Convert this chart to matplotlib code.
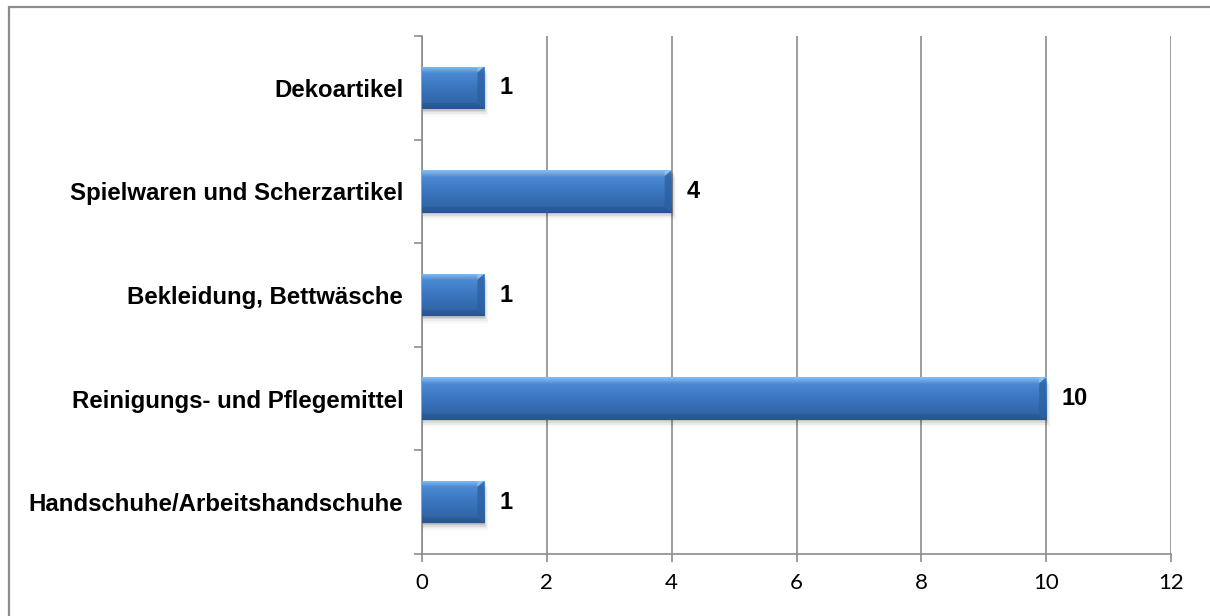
import numpy as np
import matplotlib.pyplot as plt
from matplotlib.patches import Rectangle, Polygon
from matplotlib.colors import LinearSegmentedColormap

# product groups, bottom to top
categories = ["Handschuhe/Arbeitshandschuhe",
              "Reinigungs- und Pflegemittel",
              "Bekleidung, Bettwäsche",
              "Spielwaren und Scherzartikel",
              "Dekoartikel"]
counts = [1, 10, 1, 4, 1]
xticks = [0, 2, 4, 6, 8, 10, 12]

GRID = "#8c8c8c"
fig = plt.figure(figsize=(12.1, 6.16), dpi=100)
ax = fig.add_axes([422 / 1210, 1 - 554 / 616, 749 / 1210, 518 / 616])

# outer frame of the chart area (runs off the right/bottom edge)
fig.patches.append(Rectangle((8.5 / 1210, -0.1), 1.2, 1 - 6.5 / 616 + 0.1,
                             transform=fig.transFigure, fill=False,
                             edgecolor=GRID, lw=1.6, zorder=0))

ypos = np.arange(len(categories))
bars = ax.barh(ypos, counts, height=0.41, color="none", edgecolor="none", zorder=3)

# vertical shading for the bevelled bar look
face = LinearSegmentedColormap.from_list("face", [
    (0.0, "#2a5893"), (0.14, "#3165a6"), (0.55, "#3c78c2"),
    (0.84, "#4b89d3"), (0.92, "#6aa7e8"), (1.0, "#86bff2")])
grad = np.linspace(0, 1, 256).reshape(-1, 1)

px_x = 749 / 12.0      # pixels per x unit
px_y = 518 / 5.0       # pixels per category band
bx = 7 / px_x
by = 6 / px_y

for b in bars:
    x0, y0, w, h = b.get_x(), b.get_y(), b.get_width(), b.get_height()
    x1, y1 = x0 + w, y0 + h
    # soft shadow below the bar
    for k, a in enumerate([0.10, 0.07, 0.045, 0.025, 0.012]):
        d = (k + 1) * 1.6 / px_y
        ax.add_patch(Rectangle((x0, y0 - d), w + (k + 1) * 1.0 / px_x, h,
                               facecolor="#000000", alpha=a, lw=0, zorder=2))
    im = ax.imshow(grad, extent=(x0, x1, y0, y1), origin="lower", cmap=face,
                   aspect="auto", zorder=3, interpolation="bicubic")
    im.set_clip_path(Rectangle((x0, y0), w, h, transform=ax.transData))
    # bevel edges at the bar end
    ax.add_patch(Polygon([(x1, y1), (x1 - bx, y1 - by), (x1 - bx, y1)],
                         closed=True, facecolor="#9fcdf6", alpha=0.6, lw=0, zorder=4))
    ax.add_patch(Polygon([(x0, y0), (x1, y0), (x1 - bx, y0 + by), (x0, y0 + by)],
                         closed=True, facecolor="#244f86", alpha=0.35, lw=0, zorder=4))
    ax.add_patch(Polygon([(x1, y0), (x1, y1), (x1 - bx, y1 - by), (x1 - bx, y0 + by)],
                         closed=True, facecolor="#2c5f9f", alpha=0.75, lw=0, zorder=4))
    ax.text(x1 + 15 / px_x, b.get_y() + h / 2, str(int(w)),
            va="center", ha="left", fontsize=17, fontweight="bold",
            family="Liberation Sans", color="black", zorder=5)

ax.set_xlim(0, 12)
ax.set_ylim(-0.5, len(categories) - 0.5)
ax.set_xticks(xticks)
ax.set_xticklabels([str(t) for t in xticks], fontsize=16, family="Lato")
ax.set_yticks(ypos)
ax.set_yticklabels(categories, fontsize=17.3, fontweight="bold", family="Liberation Sans")
ax.set_yticks(np.arange(-0.5, len(categories)), minor=True)
ax.tick_params(axis="y", which="major", length=0, pad=13.5)
ax.tick_params(axis="y", which="minor", length=6, width=1.2, color=GRID)
ax.tick_params(axis="x", length=6, width=1.2, color=GRID, pad=8)

ax.grid(axis="x", color=GRID, lw=1.2, zorder=1)
ax.set_axisbelow(True)
for s in ["top", "right"]:
    ax.spines[s].set_visible(False)
for s in ["left", "bottom"]:
    ax.spines[s].set_color(GRID)
    ax.spines[s].set_linewidth(1.2)

fig.savefig("out.png", dpi=100)
